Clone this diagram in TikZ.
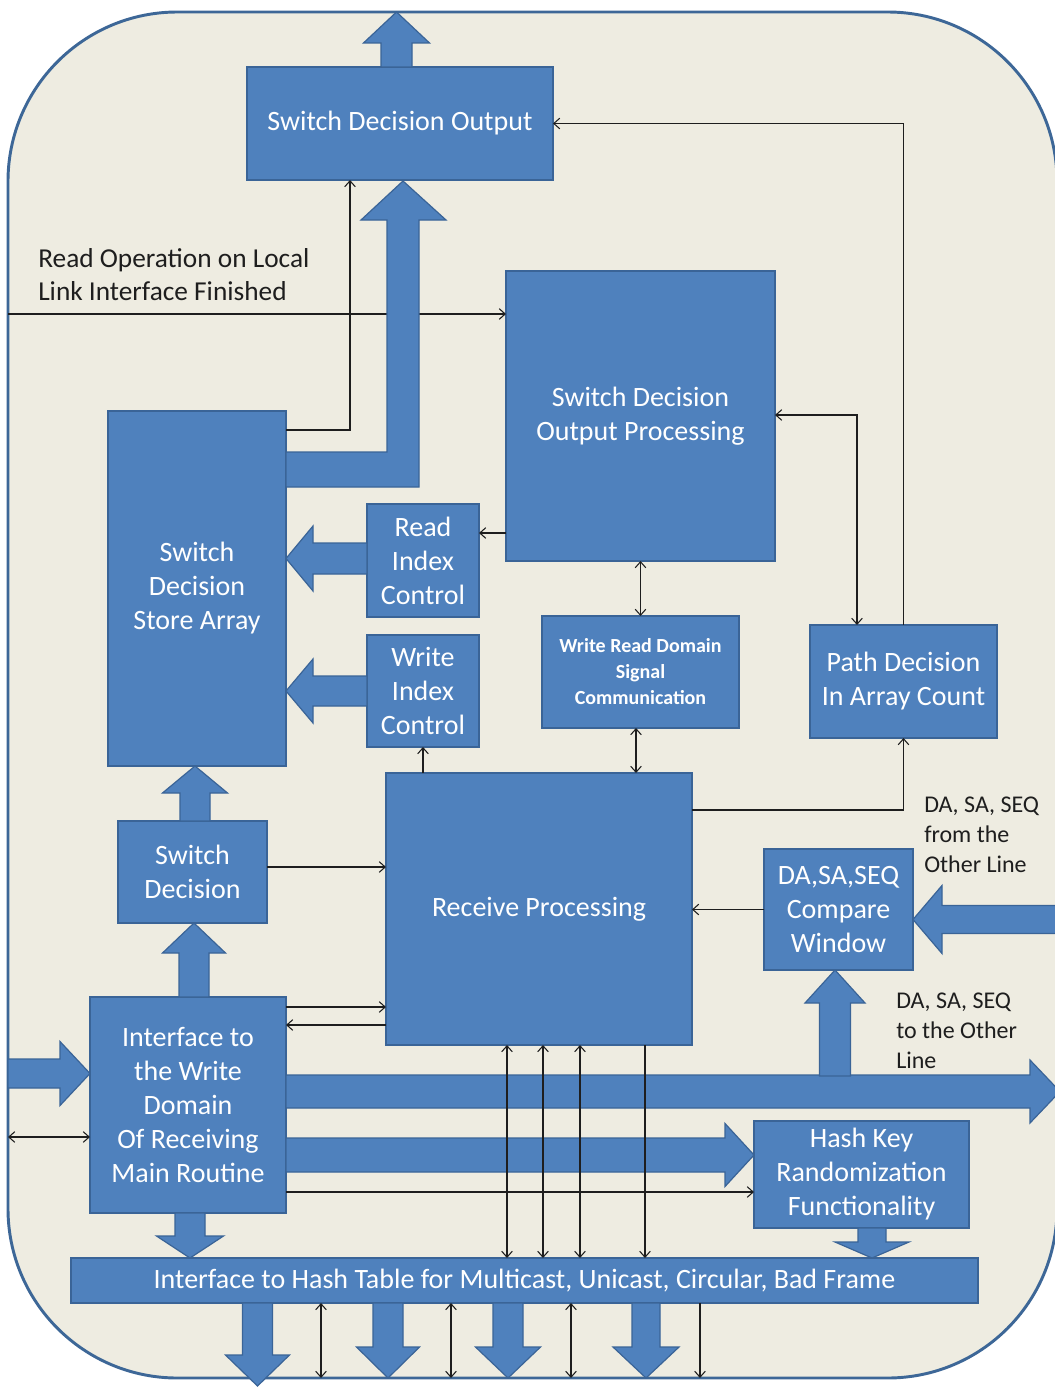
\documentclass[tikz,border=0pt]{standalone}
\usepackage{fontspec}
\setmainfont{Carlito}
\usetikzlibrary{arrows.meta,calc}
\definecolor{bgtan}{HTML}{EEECE1}
\definecolor{frameblue}{HTML}{3D6797}
\definecolor{boxblue}{HTML}{4F81BD}
\definecolor{boxedge}{HTML}{3A6497}
\definecolor{ink}{HTML}{1E1E1E}

% rectangle block given by its corner coordinates
\newcommand\bx[7][]{\node[blk,#1, minimum width={(#5-#3)*0.75pt}, minimum height={(#6-#4)*0.75pt}] (#2) at ({(#3+#5)/2},{(#4+#6)/2}) {#7};}
% vertical block arrow: centre x, half shaft, half head, tail y, head base y, tip y
\newcommand\varr[6]{\filldraw[barrow] ({#1-#2},#4) -- ({#1-#2},#5) -- ({#1-#3},#5) -- (#1,#6) -- ({#1+#3},#5) -- ({#1+#2},#5) -- ({#1+#2},#4) -- cycle;}
% horizontal block arrow: centre y, half shaft, half head, tail x, head base x, tip x
\newcommand\harr[6]{\filldraw[barrow] (#4,{#1-#2}) -- (#5,{#1-#2}) -- (#5,{#1-#3}) -- (#6,#1) -- (#5,{#1+#3}) -- (#5,{#1+#2}) -- (#4,{#1+#2}) -- cycle;}

\begin{document}
\begin{tikzpicture}[x=0.75pt,y=-0.75pt,
  blk/.style={draw=boxedge, fill=boxblue, line width=1.5pt, inner sep=0pt, outer sep=0pt,
    text=white, align=center, font=\fontsize{21}{25.5}\selectfont},
  barrow/.style={fill=boxblue, draw=boxedge, line width=0.9pt, line join=miter},
  sig/.style={draw=ink, line width=0.8pt},
  >={Straight Barb[length=4.5pt,width=8pt]},
  lbl/.style={text=ink, align=left, anchor=north west, inner sep=0pt}]

\useasboundingbox (0,0) rectangle (1055,1388);

% outer frame
\draw[fill=bgtan, draw=frameblue, line width=2.2pt, rounded corners=127pt] (8,12) rectangle (1057,1378);

% functional blocks
\bx{sdo}{247}{67}{553}{180}{Switch Decision Output}
\bx{sdop}{506}{271}{775}{561}{Switch Decision\\Output Processing}
\bx{sdsa}{108}{411}{286}{766}{Switch\\Decision\\Store Array}
\bx{ric}{367}{504}{479}{617}{Read\\Index\\Control}
\bx{wic}{367}{635}{479}{747}{Write\\Index\\Control}
\bx[font=\fontsize{15}{19.5}\selectfont\bfseries]{wrd}{542}{616}{739}{728}{Write Read Domain\\Signal\\Communication}
\bx{pdac}{810}{625}{997}{738}{Path Decision\\In Array Count}
\bx{rp}{386}{773}{692}{1045}{Receive Processing}
\bx{sd}{118}{821}{267}{923}{Switch\\Decision}
\bx{cw}{764}{849}{913}{970}{DA,SA,SEQ\\Compare\\Window}
\bx{iwd}{90}{997}{286}{1213}{Interface to\\the Write\\Domain\\Of Receiving\\Main Routine}
\bx{hk}{754}{1121}{969}{1228}{Hash Key\\Randomization\\Functionality}
\bx{ht}{71}{1258}{978}{1303}{Interface to Hash Table for Multicast, Unicast, Circular, Bad Frame}

% free ends on the frame and bend points
\coordinate (rin) at (8,314);
\coordinate (lin) at (8,1137);
\coordinate (b1) at (350,430);
\coordinate (b2) at (857,415);
\coordinate (b3) at (904,810);
\coordinate (fb) at (0,1378);

% signal passing under the read data path
\draw[sig,->] (rin) -- (rin -| sdop.west);

% block arrows (data paths)
\varr{396.5}{15.5}{33}{67}{43}{12}
\filldraw[barrow] (sdsa.east |- 0,452) -- (387,452) -- (387,220) -- (361,220) -- (403,181) -- (446,220) -- (419,220) -- (419,487) -- (sdsa.east |- 0,487) -- cycle;
\harr{558.5}{15.5}{32.5}{367}{313}{286}
\harr{691}{15}{32}{367}{313}{286}
\varr{195}{15}{32.5}{821}{793}{766}
\varr{194}{15}{31.5}{997}{953}{923}
\harr{1073.5}{14.5}{32}{8}{60}{90}
\harr{1091.5}{16.5}{31.5}{286}{1030}{1060}
\varr{835}{15.5}{30}{1076}{1003}{970}
\harr{1155}{17}{31.5}{286}{725}{754}
\harr{919.5}{14}{34}{1060}{942}{913}
\varr{190}{15}{33.5}{1213}{1236}{1258}
\varr{872}{14}{37}{1228}{1242}{1258}
\varr{257.5}{15}{32}{1303}{1355}{1386}
\varr{388}{15}{31.5}{1303}{1347}{1378}
\varr{508}{15}{32.5}{1303}{1347}{1378}
\varr{646}{14}{33}{1303}{1347}{1378}

% control and status signals
\draw[sig,->] (sdsa.east |- b1) -| (b1 |- sdo.south);
\draw[sig,->] (pdac.north) |- (sdo.east);
\draw[sig,<->] (sdop.east |- b2) -| (b2 |- pdac.north);
\draw[sig,->] (sdop.west |- 0,533) -- (ric.east |- 0,533);
\draw[sig,<->] (sdop.south) -- (wrd.north);
\draw[sig,<->] (wrd.south -| 636,0) -- (rp.north -| 636,0);
\draw[sig,->] (rp.east |- b3) -| (pdac.south);
\draw[sig,->] (rp.north -| wic.south) -- (wic.south);
\draw[sig,->] (sd.east |- 0,867) -- (rp.west |- 0,867);
\draw[sig,->] (cw.west) -- (cw.west -| rp.east);
\draw[sig,->] (iwd.east |- 0,1007) -- (rp.west |- 0,1007);
\draw[sig,<-] (iwd.east |- 0,1025) -- (rp.west |- 0,1025);
\draw[sig,<->] (lin) -- (lin -| iwd.west);
\draw[sig,->] (iwd.east |- 0,1192) -- (hk.west |- 0,1192);
\foreach \x in {507,543,580}
  \draw[sig,<->] (rp.south -| \x,0) -- (ht.north -| \x,0);
\draw[sig,->] (rp.south -| 645,0) -- (ht.north -| 645,0);
\foreach \x in {321,451,571}
  \draw[sig,<->] (ht.south -| \x,0) -- (fb -| \x,0);
\draw[sig,->] (ht.south -| 700,0) -- (fb -| 700,0);

% free labels
\node[lbl, font=\fontsize{20.5}{24.8}\selectfont] (rdlbl) at (38,248) {Read Operation on Local\\Link Interface Finished};
\node[lbl, font=\fontsize{18}{22.5}\selectfont] (fromlbl) at (924,797) {DA, SA, SEQ\\from the\\Other Line};
\node[lbl, font=\fontsize{18}{22.5}\selectfont] (tolbl) at (896,993) {DA, SA, SEQ\\to the Other\\Line};
\end{tikzpicture}
\end{document}
